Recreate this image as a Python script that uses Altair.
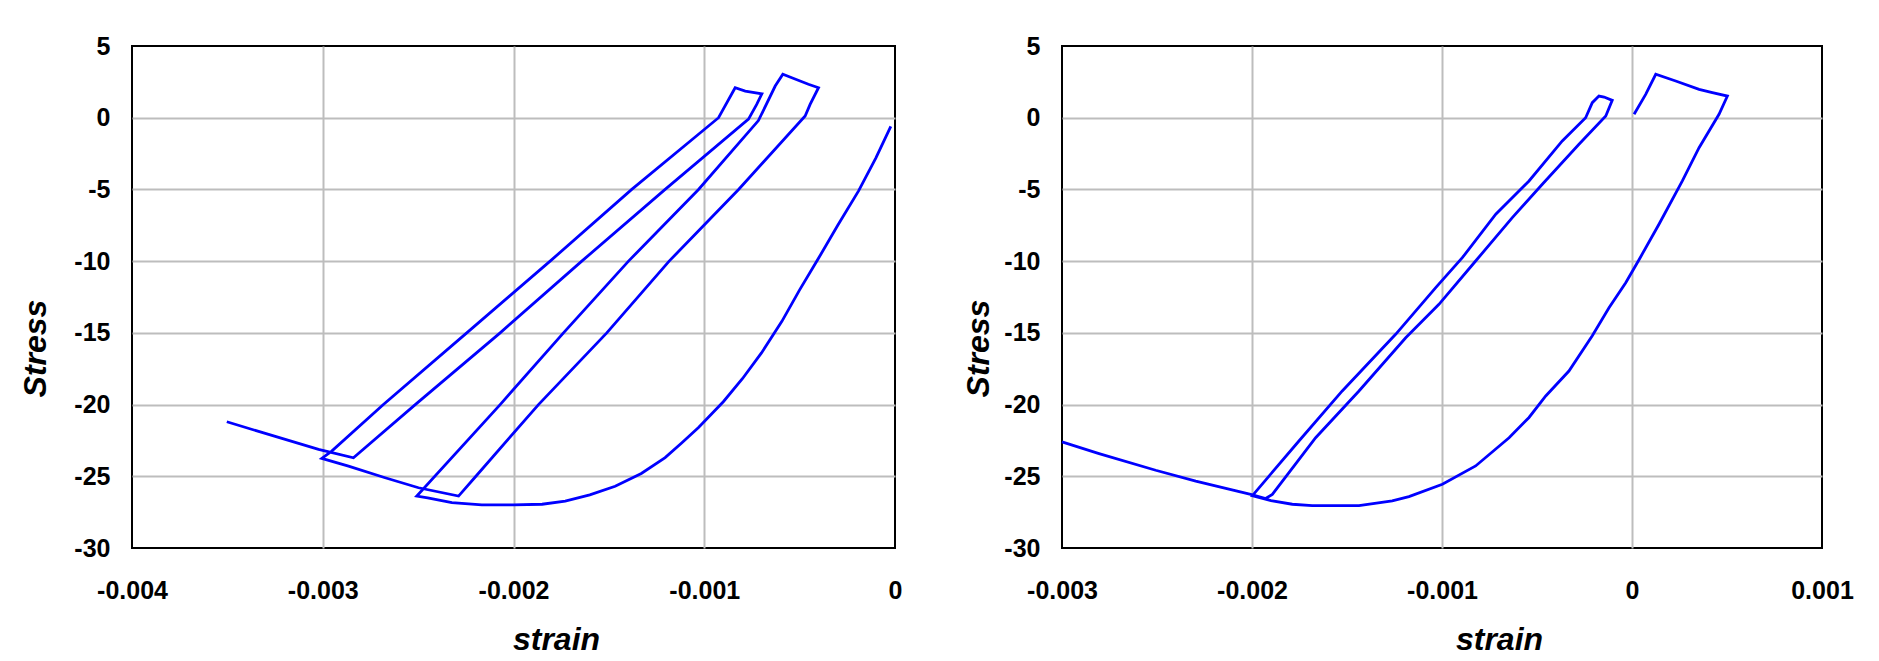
import altair as alt
import pandas as pd

# ---- Left panel: strain / stress path ----
left_strain = [
    -0.000022, -0.00010, -0.000191, -0.00030, -0.000401, -0.00050, -0.000593, -0.00070,
    -0.00080, -0.00090, -0.00103, -0.00112, -0.001205, -0.00133, -0.001467, -0.00160,
    -0.001729, -0.00185, -0.00200, -0.002166, -0.002323, -0.00245, -0.002507,
    -0.00207, -0.001738, -0.001397, -0.00103, -0.000716, -0.000628, -0.000588,
    -0.000541, -0.000454, -0.000401,
    -0.000445, -0.000471, -0.00082, -0.001184, -0.001511, -0.001869, -0.002204, -0.002288,
    -0.002498, -0.002673, -0.002865, -0.003005,
    -0.002953, -0.002682, -0.002245, -0.001808, -0.00138, -0.000925, -0.000838,
    -0.000785, -0.000698,
    -0.000725, -0.000768, -0.001205, -0.001642, -0.00207, -0.002515, -0.002839,
    -0.003022, -0.003284, -0.003503,
]
left_stress = [
    -0.6, -2.8, -5.1, -7.5, -9.8, -12.0, -14.2, -16.4,
    -18.2, -19.8, -21.6, -22.7, -23.7, -24.8, -25.7, -26.3,
    -26.73, -26.95, -27.0, -27.0, -26.84, -26.5, -26.38,
    -20.0, -15.0, -10.0, -5.0, -0.2, 2.21, 3.03,
    2.79, 2.33, 2.09,
    0.93, 0.12, -5.0, -10.0, -15.0, -20.0, -25.1, -26.38,
    -25.8, -25.1, -24.29, -23.75,
    -23.24, -20.0, -15.0, -10.0, -5.0, 0.0, 2.09,
    1.86, 1.67,
    0.93, -0.1, -5.0, -10.0, -15.0, -20.0, -23.71,
    -23.12, -22.08, -21.2,
]

# ---- Right panel ----
right_strain = [
    0.000011, 0.000072, 0.000125, 0.00023, 0.000353, 0.000423, 0.000502,
    0.000458, 0.000353, 0.000265, 0.000142, 0.000037, -0.000033, -0.000121, -0.000209,
    -0.000332, -0.000454, -0.000542, -0.000647, -0.000823, -0.000998, -0.001174,
    -0.001262, -0.001437, -0.001683, -0.001788, -0.0019, -0.001998,
    -0.001753, -0.001525, -0.001244, -0.001033, -0.000893, -0.000717, -0.000542,
    -0.000367, -0.000244, -0.000209, -0.000174,
    -0.000147, -0.000104,
    -0.000138, -0.000279, -0.000472, -0.00063, -0.000823, -0.001016, -0.001191,
    -0.001437, -0.001665, -0.001893, -0.001928,
    -0.002007, -0.002138, -0.002296, -0.002507, -0.002805, -0.003,
]
right_stress = [
    0.24, 1.63, 3.03, 2.56, 1.98, 1.75, 1.51,
    0.24, -2.09, -4.41, -7.43, -9.9, -11.5, -13.25, -15.2,
    -17.66, -19.4, -20.9, -22.31, -24.28, -25.56, -26.42,
    -26.72, -27.05, -27.05, -26.95, -26.7, -26.35,
    -22.54, -19.05, -15.1, -11.85, -9.76, -6.73, -4.41,
    -1.62, 0.0, 1.05, 1.51,
    1.44, 1.21,
    0.12, -1.85, -4.64, -6.97, -9.99, -13.01, -15.34,
    -19.05, -22.31, -26.26, -26.55,
    -26.26, -25.84, -25.33, -24.58, -23.42, -22.6,
]

left_xticks = [-0.004, -0.003, -0.002, -0.001, 0]
right_xticks = [-0.003, -0.002, -0.001, 0, 0.001]
yticks = [-30, -25, -20, -15, -10, -5, 0, 5]

left_df = pd.DataFrame({"strain": left_strain, "stress": left_stress,
                        "i": list(range(len(left_strain)))})
right_df = pd.DataFrame({"strain": right_strain, "stress": right_stress,
                         "i": list(range(len(right_strain)))})

x_label_expr = ("datum.value == 0 ? '0' : (datum.value < 0 ? '-' : '') + "
                "format(abs(datum.value), '.3f')")
y_label_expr = "(datum.value < 0 ? '-' : '') + format(abs(datum.value), 'd')"


def panel(df, xdom, xticks, w, xtitle_x, ytitle_x):
    lo, hi = xdom
    xgrid_test = f"datum.value < {lo} + 0.00001 || datum.value > {hi} - 0.00001"
    return alt.Chart(df).mark_line(color="#0000ff", strokeWidth=2.8).encode(
        x=alt.X("strain:Q",
                scale=alt.Scale(domain=list(xdom), nice=False, zero=False),
                axis=alt.Axis(values=xticks, labelExpr=x_label_expr, title="strain",
                              ticks=False, domain=False, labelFlush=False,
                              labelOverlap=False,
                              labelPadding=30, labelBaseline="top",
                              titleX=xtitle_x, titleY=101, titleAlign="center",
                              titleBaseline="alphabetic",
                              gridOpacity={"condition": {"test": xgrid_test, "value": 0},
                                           "value": 1})),
        y=alt.Y("stress:Q",
                scale=alt.Scale(domain=[-30, 5], nice=False, zero=False),
                axis=alt.Axis(values=yticks, labelExpr=y_label_expr, title="Stress",
                              ticks=False, domain=False, labelPadding=22,
                              labelFlush=False, labelOverlap=False,
                              titleX=ytitle_x, titleY=302, titleAlign="center",
                              titleBaseline="middle", titleAngle=270,
                              gridOpacity={"condition": {"test": "datum.value >= 5 || datum.value <= -30",
                                                         "value": 0},
                                           "value": 1})),
        order="i:Q",
    ).properties(width=w, height=502)


left = panel(left_df, (-0.004, 0), left_xticks, 763, 424, -97)
right = panel(right_df, (-0.003, 0.001), right_xticks, 760, 437, -84)

chart = alt.hconcat(left, right, spacing=167, bounds="flush").properties(
    padding={"left": 10, "top": 25, "right": 5, "bottom": 5}
).configure_view(
    stroke="black", strokeWidth=2
).configure_axis(
    labelFont="Liberation Sans", labelFontSize=25, labelFontWeight="bold",
    labelColor="black",
    titleFont="Liberation Sans", titleFontSize=32, titleFontWeight="bold",
    titleFontStyle="italic", titleColor="black",
    gridColor="#bdbdbd", gridWidth=2,
)

chart.save("out.html", embed_options={"renderer": "svg", "actions": False})
